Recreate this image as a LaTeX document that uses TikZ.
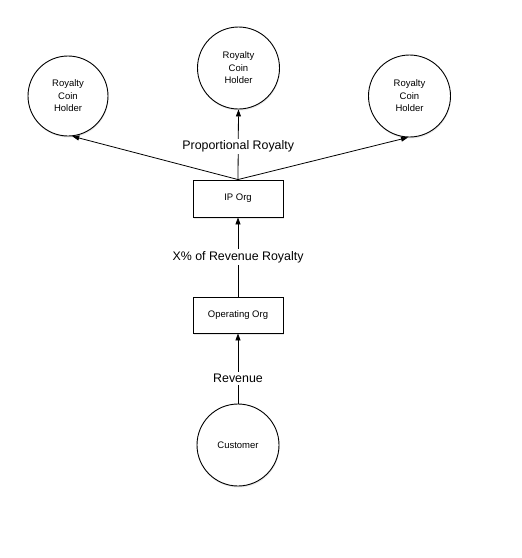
\documentclass[tikz,border=0pt]{standalone}
\usepackage{fontspec}
\setmainfont{Liberation Sans}
\usetikzlibrary{arrows.meta,shadows}
\begin{document}
\begin{tikzpicture}[x=1pt,y=-1pt,
  softshadow/.style={drop shadow={opacity=0.18,shadow xshift=0.5pt,shadow yshift=-1.5pt}},
  holder/.style={draw,circle,fill=white,softshadow,line width=0.9pt,minimum size=82pt,inner sep=0pt,align=center,font=\fontsize{9.5}{12.5}\selectfont},
  orgbox/.style={draw,rectangle,fill=white,softshadow,line width=0.9pt,minimum width=90pt,minimum height=37pt,inner sep=0pt,font=\fontsize{9.5}{12}\selectfont},
  flow/.style={line width=0.8pt,-{Triangle[length=7pt,width=5pt]}},
  lab/.style={fill=white,inner sep=2pt,font=\fontsize{12.4}{14}\selectfont}]
\useasboundingbox (0,0) rectangle (522,558);
\node[holder] (top) at (238.5,68) {Royalty\\Coin\\Holder};
\node[holder,minimum size=80pt] (left) at (68,96) {Royalty\\Coin\\Holder};
\node[holder] (right) at (409.5,96) {Royalty\\Coin\\Holder};
\node[orgbox] (ip) at (238,198.5) {IP Org};
\node[orgbox,minimum height=36pt] (op) at (238,315) {Operating Org};
\node[holder] (cust) at (238,445) {Customer};
\draw[flow] (ip.north) -- (left.-84);
\draw[flow] (ip.north) -- (right.-92);
\draw[flow] (ip.north) -- node[lab,pos=0.47] (l1) {Proportional Royalty} (top.south);
\draw[flow] (op.north) -- node[lab,pos=0.5] (l2) {X\% of Revenue Royalty} (ip.south);
\draw[flow] (cust.north) -- node[lab,pos=0.36] (l3) {Revenue} (op.south);
\end{tikzpicture}
\end{document}
